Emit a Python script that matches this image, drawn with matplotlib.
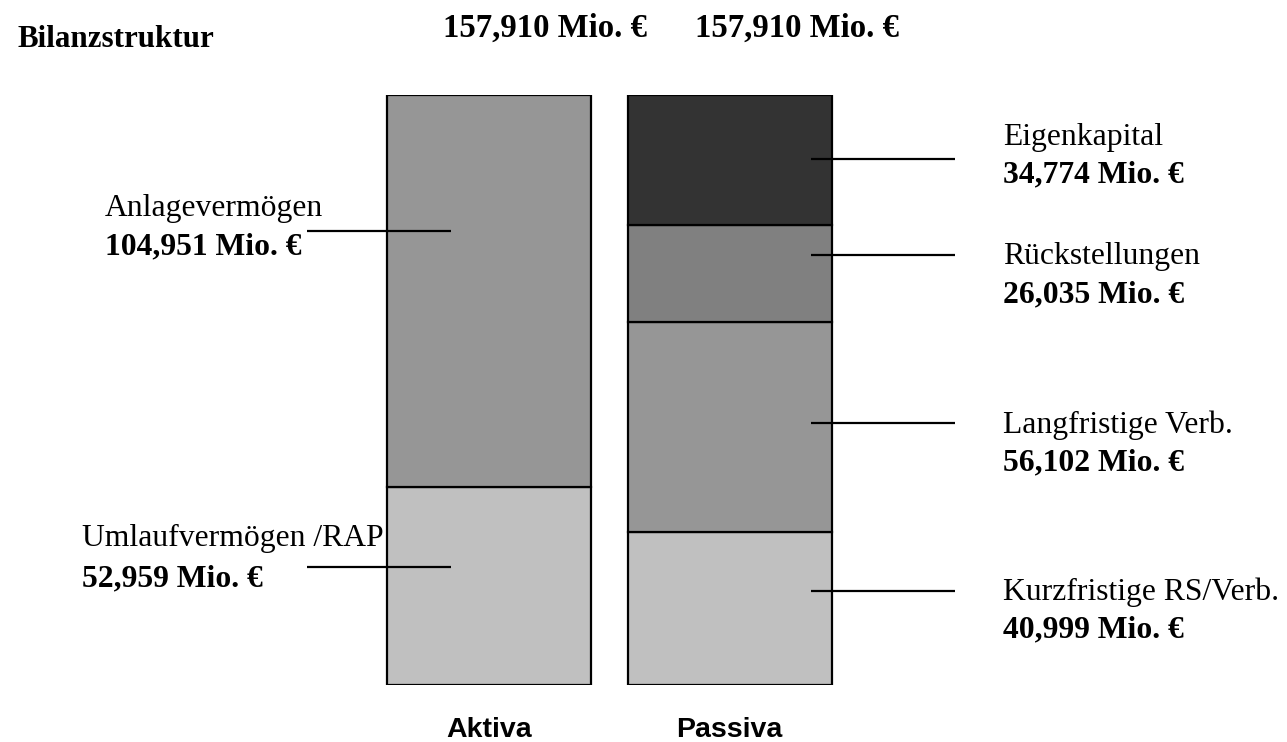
import matplotlib
matplotlib.use("Agg")
import matplotlib.pyplot as plt
import numpy as np

# Balance sheet structure (Mio. €)
total_label = "157,910 Mio. €"
aktiva_names = ["Umlaufvermögen /RAP", "Anlagevermögen"]
aktiva_values = [52.959, 104.951]
aktiva_colors = ["#c0c0c0", "#969696"]

passiva_names = ["Kurzfristige RS/Verb.", "Langfristige Verb.", "Rückstellungen", "Eigenkapital"]
passiva_values = [40.999, 56.102, 26.035, 34.774]
passiva_colors = ["#c0c0c0", "#969696", "#808080", "#333333"]

column_labels = ["Aktiva", "Passiva"]

W, H = 1287, 742
fig = plt.figure(figsize=(W / 100, H / 100), dpi=100)
fig.patch.set_facecolor("white")

total = sum(aktiva_values)
ax = fig.add_axes([0, (H - 685) / H, 1, 590 / H])
ax.set_xlim(0, W)
ax.set_ylim(0, total)
ax.axis("off")

centers = [489, 729.5]
bar_w = 204

def stack(center, values, colors):
    bottoms = np.concatenate([[0], np.cumsum(values)[:-1]])
    ax.bar([center] * len(values), values, bottom=bottoms, width=bar_w,
           color=colors, edgecolor="black", linewidth=1.6, zorder=2)
    return bottoms

a_bot = stack(centers[0], aktiva_values, aktiva_colors)
p_bot = stack(centers[1], passiva_values, passiva_colors)

# leader lines: relative height inside each segment
a_frac = [0.596, 0.653]
p_frac = [0.614, 0.519, 0.691, 0.507]
for b, v, f in zip(a_bot, aktiva_values, a_frac):
    ax.plot([307, 451], [b + f * v] * 2, color="black", lw=1.6, zorder=3,
            solid_capstyle="butt")
for b, v, f in zip(p_bot, passiva_values, p_frac):
    ax.plot([811, 955], [b + f * v] * 2, color="black", lw=1.6, zorder=3,
            solid_capstyle="butt")

serif = "Liberation Serif"
sans = "Liberation Sans"
FS = 22.8

def px(x, y):
    return x / W, 1 - y / H

def fmt(v):
    return f"{v:.3f}".replace(".", ",") + " Mio. €"

fig.text(*px(18, 47), "Bilanzstruktur", family=serif, weight="bold",
         fontsize=22.3, va="baseline", ha="left")
fig.text(*px(443, 37), total_label, family=serif, weight="bold",
         fontsize=23.6, va="baseline", ha="left")
fig.text(*px(695, 37), total_label, family=serif, weight="bold",
         fontsize=23.6, va="baseline", ha="left")

# left labels (Aktiva)
a_pos = [(82, 546, 586), (105, 216, 254)]
for name, v, (x, y1, y2) in zip(aktiva_names, aktiva_values, a_pos):
    fig.text(*px(x, y1), name, family=serif, fontsize=FS, va="baseline", ha="left")
    fig.text(*px(x, y2), fmt(v), family=serif, weight="bold", fontsize=FS,
             va="baseline", ha="left")

# right labels (Passiva)
p_pos = [(1003, 600, 637), (1003, 433, 470), (1003, 264, 302), (1003, 145, 182)]
for name, v, (x, y1, y2) in zip(passiva_names, passiva_values, p_pos):
    fig.text(*px(x, y1), name, family=serif, fontsize=FS, va="baseline", ha="left")
    fig.text(*px(x, y2), fmt(v), family=serif, weight="bold", fontsize=FS,
             va="baseline", ha="left")

for c, lab in zip(centers, column_labels):
    fig.text(*px(c, 737), lab, family=sans, weight="bold", fontsize=20.5,
             va="baseline", ha="center")

fig.savefig("out.png", dpi=100, facecolor="white")
